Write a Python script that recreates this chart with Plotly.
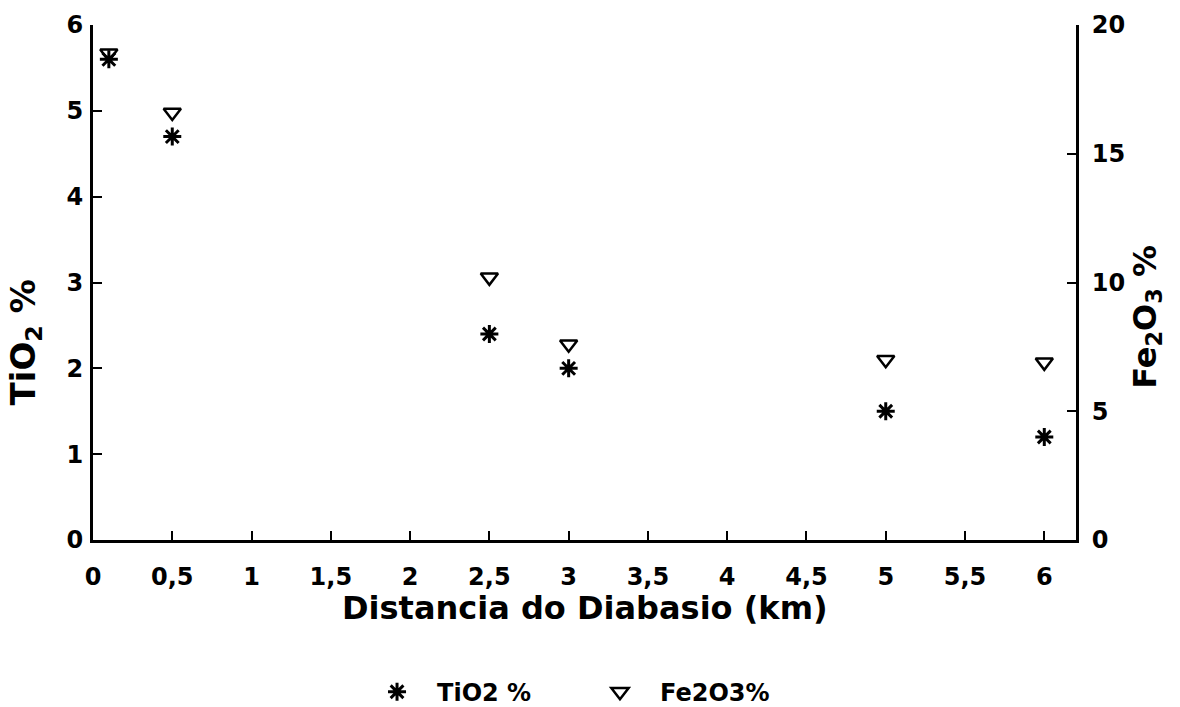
import plotly.graph_objects as go

distance_km = [0.1, 0.5, 2.5, 3, 5, 6]
tio2_pct = [5.6, 4.7, 2.4, 2.0, 1.5, 1.2]
fe2o3_pct = [18.9, 16.6, 10.2, 7.6, 7.0, 6.9]

x_tickvals = [0, 0.5, 1, 1.5, 2, 2.5, 3, 3.5, 4, 4.5, 5, 5.5, 6]
x_ticktext = ["0", "0,5", "1", "1,5", "2", "2,5", "3", "3,5", "4", "4,5", "5", "5,5", "6"]
y1_ticks = [0, 1, 2, 3, 4, 5, 6]
y2_ticks = [0, 5, 10, 15, 20]

FONT = "DejaVu Sans"
BOLD = dict(family=FONT, color="black", weight="bold")

fig = go.Figure()
fig.add_trace(go.Scatter(
    x=distance_km, y=tio2_pct, mode="markers", name="TiO2 %",
    marker=dict(symbol="asterisk-open", size=15, color="black",
                line=dict(color="black", width=3)),
    yaxis="y", legend="legend"))
fig.add_trace(go.Scatter(
    x=distance_km, y=fe2o3_pct, mode="markers", name="Fe2O3%",
    marker=dict(symbol="triangle-down-open", size=15, color="black",
                line=dict(color="black", width=2.5)),
    yaxis="y2", legend="legend2"))

axis_common = dict(showgrid=False, zeroline=False, showline=True,
                   linecolor="black", linewidth=3, ticks="inside",
                   tickcolor="black", tickwidth=2, ticklen=9,
                   tickfont=dict(size=24, **BOLD))

legend_common = dict(orientation="h", yref="container", y=0.021,
                     yanchor="middle", xanchor="left", itemwidth=70,
                     font=dict(size=24, **BOLD),
                     bgcolor="rgba(0,0,0,0)")

fig.update_layout(
    width=1180, height=707,
    margin=dict(l=93, r=104, t=25, b=167, autoexpand=False),
    paper_bgcolor="white", plot_bgcolor="white",
    showlegend=True,
    legend=dict(x=0.2686, **legend_common),
    legend2=dict(x=0.4954, **legend_common),
    xaxis=dict(range=[0, 6.2], tickvals=x_tickvals, ticktext=x_ticktext,
               ticklabelstandoff=13, automargin=False, **axis_common),
    yaxis=dict(range=[0, 6], tickvals=y1_ticks, ticklabelstandoff=2,
               automargin=False, **axis_common),
    yaxis2=dict(range=[0, 20], tickvals=y2_ticks, overlaying="y",
                side="right", anchor="x", ticklabelstandoff=8,
                automargin=False, **axis_common),
    annotations=[
        dict(text="Distancia do Diabasio (km)", xref="paper", yref="paper",
             x=0.5, y=-0.132, xanchor="center", yanchor="middle",
             showarrow=False, font=dict(size=32, **BOLD)),
        dict(text="TiO<sub>2</sub> %", xref="paper", yref="paper",
             x=-0.069, y=0.384, xanchor="center", yanchor="middle",
             textangle=-90, showarrow=False, font=dict(size=34, **BOLD)),
        dict(text="Fe<sub>2</sub>O<sub>3</sub> %", xref="paper", yref="paper",
             x=1.072, y=0.433, xanchor="center", yanchor="middle",
             textangle=-90, showarrow=False, font=dict(size=32, **BOLD)),
    ],
)

fig.write_html("out.html")
